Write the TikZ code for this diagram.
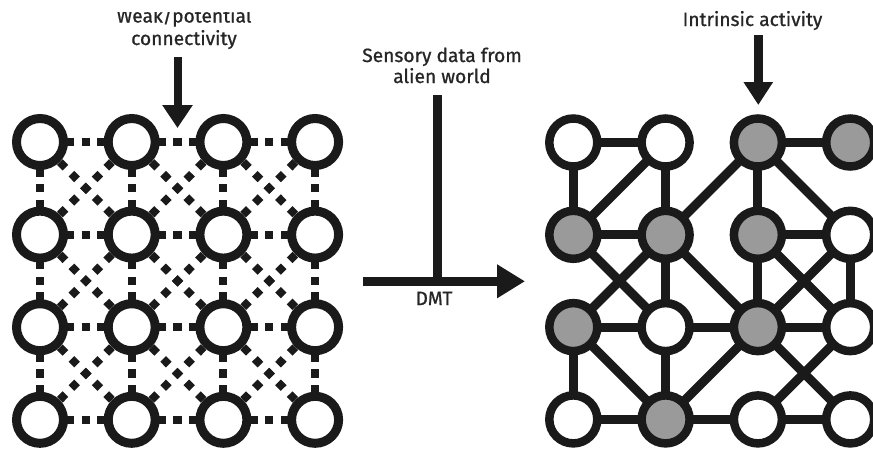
\documentclass[tikz,border=0pt]{standalone}
\usepackage{fontspec}
\setmainfont{Fira Sans}[FakeBold=0.9]
\usetikzlibrary{arrows.meta,backgrounds}
\definecolor{ink}{HTML}{1A1A1A}
\definecolor{active}{HTML}{9A9A9A}
\definecolor{labelgray}{HTML}{262626}

\tikzset{
  caption/.style={font=\fontsize{19.2}{22}\selectfont, text=labelgray, align=center, inner sep=0pt, anchor=base},
  unit/.style={circle, draw=ink, fill=white, line width=9pt, minimum size=47pt, inner sep=0pt},
  liveunit/.style={unit, line width=8.5pt, minimum size=48pt},
  graylive/.style={liveunit, fill=active},
  % dashed potential links; each phase centres one dash on the link's midpoint
  weakh/.style={draw=ink, line width=8pt, dash pattern=on 8.3pt off 7.4pt, dash phase=5.4pt},
  weakv/.style={draw=ink, line width=8pt, dash pattern=on 8.3pt off 7.4pt, dash phase=4.95pt},
  weakd/.style={draw=ink, line width=8pt, dash pattern=on 8pt off 8.5pt, dash phase=4.85pt},
  strong/.style={draw=ink, line width=9pt},
  bigarrow/.style={draw=ink, line width=#1},
}

\begin{document}
\begin{tikzpicture}[x=1pt, y=-1pt]
\useasboundingbox (0,0) rectangle (873,448);

% ---------- left lattice: weak / potential connectivity ----------
\foreach \c in {1,...,4}{
  \foreach \r in {1,...,4}{
    \node[unit] (L\c\r) at ({40+(\c-1)*91.7},{142+(\r-1)*92.6}) {};
  }
}
\begin{pgfonlayer}{background}
  \foreach \c [evaluate=\c as \n using int(\c+1)] in {1,2,3}{
    \foreach \r in {1,...,4}{
      \path[weakh] (L\c\r.center) -- (L\n\r.center);
      \path[weakv] (L\r\c.center) -- (L\r\n.center);
    }
    \foreach \r [evaluate=\r as \s using int(\r+1)] in {1,2,3}{
      \path[weakd] (L\c\r.center) -- (L\n\s.center);
      \path[weakd] (L\n\r.center) -- (L\c\s.center);
    }
  }
\end{pgfonlayer}

% ---------- right network: strengthened links and active units ----------
\foreach \c/\r/\st in {1/1/liveunit, 2/1/liveunit, 3/1/graylive, 4/1/graylive,
                       1/2/graylive, 2/2/graylive, 3/2/graylive, 4/2/liveunit,
                       1/3/graylive, 2/3/liveunit, 3/3/graylive, 4/3/liveunit,
                       1/4/liveunit, 2/4/graylive, 3/4/liveunit, 4/4/liveunit}{
  \node[\st] (R\c\r) at ({573.3+(\c-1)*92.3},{142.5+(\r-1)*92.3}) {};
}
\begin{pgfonlayer}{background}
  \foreach \a/\b in {R11/R21, R31/R41,
                     R11/R12, R21/R12, R21/R22, R31/R22, R31/R32, R31/R42,
                     R12/R22, R32/R42,
                     R12/R23, R22/R13, R22/R23, R22/R33, R32/R33, R32/R43, R42/R33, R42/R43,
                     R13/R23, R23/R33, R33/R43,
                     R13/R14, R13/R24, R23/R24, R33/R24, R33/R44, R43/R34,
                     R14/R24, R24/R34, R34/R44}{
    \path[strong] (\a.center) -- (\b.center);
  }
\end{pgfonlayer}

% ---------- labels and arrows ----------
% the first line of this caption runs off the top edge
\begin{scope}
  \clip (90,12) rectangle (280,70);
  \node[caption, font=\fontsize{19.2}{22.5}\selectfont] (weak) at (184,45) {Weak/potential\\connectivity};
\end{scope}
\coordinate (weaktop) at (177.5,57);
\coordinate (weaktip) at (177.5,128);
\draw[bigarrow=8pt, -{Triangle[length=23pt, width=29pt]}] (weaktop) -- (weaktip);

\node[caption] (intr) at (752.5,26) {Intrinsic activity};
\coordinate (intrtop) at (758.3,35);
\coordinate (intrtip) at (758.3,105);
\draw[bigarrow=8.5pt, -{Triangle[length=23pt, width=28pt]}] (intrtop) -- (intrtip);

\node[caption, font=\fontsize{19.2}{21}\selectfont] (sens) at (442,83) {Sensory data from\\alien world};
\coordinate (senstop) at (437.2,95);
\coordinate (join) at (437.2,281.3);
\coordinate (dmtstart) at (363,281.3);
\coordinate (dmttip) at (525,281.3);
\draw[bigarrow=9.3pt, -{Triangle[length=28pt, width=32pt]}] (dmtstart) -- (dmttip);
\draw[bigarrow=9pt] (senstop) -- (join);
\node[caption] (dmt) at (434,305) {DMT};
\end{tikzpicture}
\end{document}
